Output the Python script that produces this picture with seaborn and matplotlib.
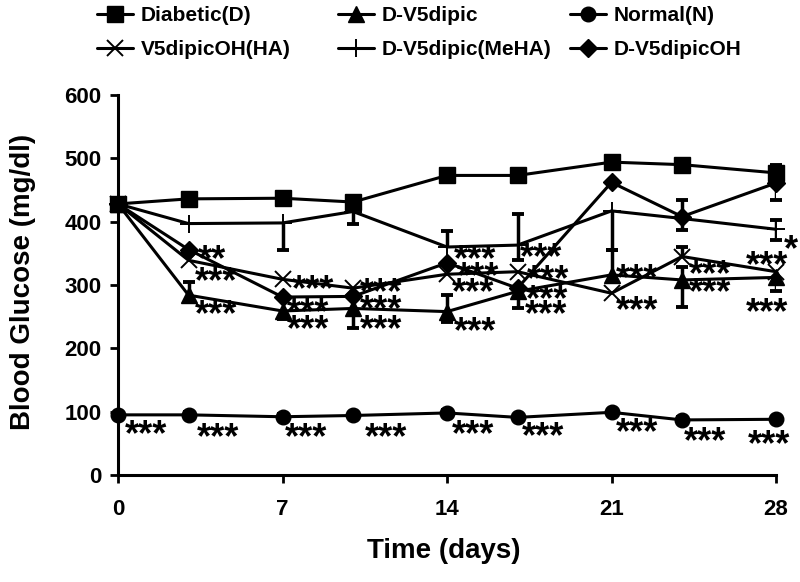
import numpy as np
import matplotlib
matplotlib.use("Agg")
import matplotlib.pyplot as plt
import seaborn as sns

# ---------------- data ----------------
days = [0, 3, 7, 10, 14, 17, 21, 24, 28]

diabetic = [428, 436, 437, 431, 473, 473, 494, 490, 477]
diabetic_lo = [0, 8, 8, 6, 8, 8, 10, 8, 12]
diabetic_hi = [0, 8, 8, 6, 8, 8, 10, 8, 12]

d_v5dipic = [428, 284, 259, 263, 258, 290, 316, 308, 312]
d_v5dipic_lo = [0, 0, 13, 31, 16, 27, 0, 42, 22]
d_v5dipic_hi = [0, 21, 0, 0, 26, 0, 40, 21, 0]

normal = [95, 95, 92, 94, 98, 91, 99, 87, 88]
normal_lo = [0, 4, 4, 4, 4, 4, 4, 4, 4]
normal_hi = [0, 4, 4, 4, 4, 4, 4, 4, 4]

v5dipicoh_ha = [428, 339, 309, 295, 317, 321, 287, 345, 321]
v5dipicoh_ha_lo = [0, 0, 0, 0, 0, 0, 0, 0, 0]
v5dipicoh_ha_hi = [0, 0, 0, 0, 0, 0, 0, 15, 0]

d_v5dipic_meha = [428, 397, 398, 416, 360, 363, 417, 405, 388]
d_v5dipic_meha_lo = [0, 0, 42, 19, 0, 23, 62, 0, 17]
d_v5dipic_meha_hi = [0, 0, 0, 0, 25, 49, 0, 0, 14]

d_v5dipicoh = [428, 356, 281, 282, 335, 295, 462, 408, 461]
d_v5dipicoh_lo = [0, 0, 0, 0, 0, 0, 0, 21, 27]
d_v5dipicoh_hi = [0, 0, 0, 0, 0, 0, 0, 26, 0]

labels = ["Diabetic(D)", "D-V5dipic", "Normal(N)",
          "V5dipicOH(HA)", "D-V5dipic(MeHA)", "D-V5dipicOH"]

# significance marks: (day, glucose level, text)
star_x = [0.3, 3.34, 7.1, 10.5, 14.2, 17.2, 21.2, 24.1, 26.8,
          3.4, 3.27, 3.27,
          7.4, 7.2, 7.2,
          10.3, 10.3, 10.3,
          14.3, 14.4, 14.2, 14.3,
          17.1, 17.4, 17.35, 17.3,
          21.2, 21.2,
          24.3, 24.3,
          28.35, 26.7, 26.7]
star_y = [79, 74, 74, 74, 79, 76, 82, 68, 63,
          355, 321, 268,
          308, 272, 245,
          303, 277, 245,
          355, 329, 303, 242,
          358, 324, 292, 268,
          326, 274,
          332, 303,
          371, 345, 272]
star_t = (["***"] * 9
          + ["**", "***", "***"]
          + ["***"] * 18
          + ["*", "***", "***"])

# ---------------- style ----------------
sns.set_theme(style="ticks")
plt.rcParams["font.family"] = ["Liberation Sans", "DejaVu Sans"]
plt.rcParams["font.weight"] = "bold"
plt.rcParams["axes.labelweight"] = "bold"
plt.rcParams["text.color"] = "black"
plt.rcParams["axes.labelcolor"] = "black"
plt.rcParams["xtick.color"] = "black"
plt.rcParams["ytick.color"] = "black"
plt.rcParams["axes.edgecolor"] = "black"

fig = plt.figure(figsize=(8, 5.82), dpi=100)
ax = fig.add_axes([0.1475, 0.1838, 0.8225, 0.653])

series = [
    (diabetic, diabetic_lo, diabetic_hi, "s", 11, 1.0),
    (d_v5dipic, d_v5dipic_lo, d_v5dipic_hi, "^", 11, 1.0),
    (normal, normal_lo, normal_hi, "o", 10.5, 1.0),
    (v5dipicoh_ha, v5dipicoh_ha_lo, v5dipicoh_ha_hi, "x", 11.5, 1.4),
    (d_v5dipic_meha, d_v5dipic_meha_lo, d_v5dipic_meha_hi, "+", 13, 1.4),
    (d_v5dipicoh, d_v5dipicoh_lo, d_v5dipicoh_hi, "D", 9.5, 1.0),
]

x = np.array(days, dtype=float)
handles = []
for (vals, lo, hi, mk, ms, mew), lab in zip(series, labels):
    v = np.array(vals, dtype=float)
    lo = np.array(lo, dtype=float)
    hi = np.array(hi, dtype=float)
    m = (lo > 0) | (hi > 0)
    ax.vlines(x[m], (v - lo)[m], (v + hi)[m], colors="black", lw=2.5, zorder=2)
    ml = lo > 0
    ax.plot(x[ml], (v - lo)[ml], ls="none", marker="_", ms=9, mew=2.8,
            color="black", zorder=2, clip_on=False)
    mh = hi > 0
    ax.plot(x[mh], (v + hi)[mh], ls="none", marker="_", ms=9, mew=2.8,
            color="black", zorder=2, clip_on=False)
    sns.lineplot(x=days, y=vals, ax=ax, color="black", lw=2.2, marker=mk,
                 markersize=ms, markeredgewidth=mew, markeredgecolor="black",
                 markerfacecolor="black", legend=False, zorder=3, clip_on=False)
    h = ax.lines[-1]
    h.set_label(lab)
    handles.append(h)

for sx, sy, st in zip(star_x, star_y, star_t):
    ax.annotate(st, xy=(sx, sy), xytext=(0, -14.5), textcoords="offset points",
                ha="left", va="baseline", fontsize=26, fontweight="bold",
                color="black", annotation_clip=False)

ax.set_xlim(0, 28)
ax.set_ylim(0, 600)
ax.set_xticks([0, 7, 14, 21, 28])
ax.set_yticks([0, 100, 200, 300, 400, 500, 600])
for s in ["top", "right"]:
    ax.spines[s].set_visible(False)
for s in ["left", "bottom"]:
    ax.spines[s].set_linewidth(2.2)
    ax.spines[s].set_color("black")
ax.tick_params(axis="both", length=6, width=2, color="black",
               labelcolor="black", labelsize=16)
ax.tick_params(axis="x", pad=11)
ax.tick_params(axis="y", pad=6)
for t in ax.get_xticklabels() + ax.get_yticklabels():
    t.set_fontweight("bold")

ax.set_xlabel("Time (days)", fontsize=20, fontweight="bold", color="black")
ax.set_ylabel("Blood Glucose (mg/dl)", fontsize=20, fontweight="bold", color="black")
ax.xaxis.set_label_coords(0.495, -0.165)
ax.yaxis.set_label_coords(-0.125, 0.508)

# legend in three columns placed like the reference
cols = [(handles[0], handles[3]), (handles[1], handles[4]), (handles[2], handles[5])]
col_x = [97, 338, 570]
for hs, cx in zip(cols, col_x):
    leg = fig.legend(handles=list(hs), labels=[h.get_label() for h in hs],
                     loc="upper left", bbox_to_anchor=(cx / 800, 1 - 6 / 582),
                     frameon=False, borderpad=0, borderaxespad=0,
                     handlelength=1.75, handletextpad=0.35, labelspacing=0.72,
                     prop={"weight": "bold", "size": 15})
    for t in leg.get_texts():
        t.set_color("black")

fig.savefig("out.png", dpi=100)
